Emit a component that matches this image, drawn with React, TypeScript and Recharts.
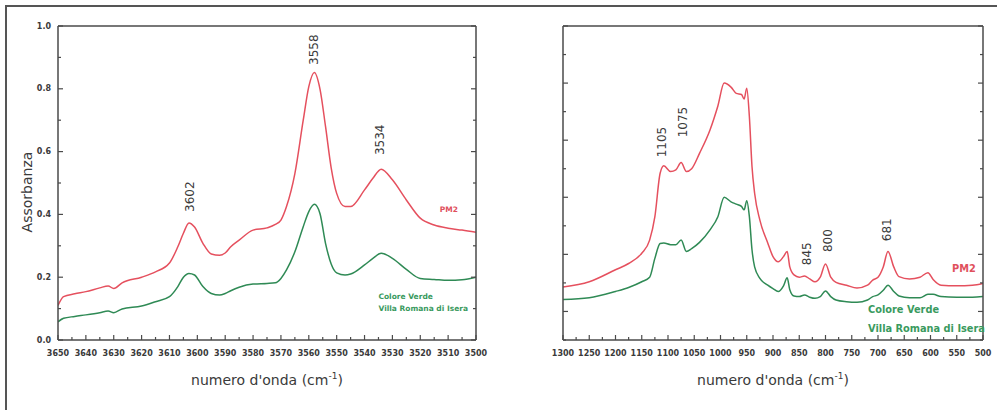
import { LineChart, Line, XAxis, YAxis, ReferenceDot } from 'recharts'

// left panel: OH stretching region
const LEFT_WN = [
  3650, 3648, 3644, 3640, 3635, 3632, 3630, 3627, 3620, 3615, 3610, 3607, 3605, 3603, 3601, 3598,
  3595, 3592, 3590, 3588, 3585, 3580, 3575, 3572, 3570, 3568, 3565, 3562, 3560, 3558, 3556, 3554,
  3552, 3550, 3547, 3545, 3540, 3537, 3534, 3530, 3525, 3520, 3515, 3510, 3505, 3500,
]
const LEFT_PM2 = [
  0.11, 0.138, 0.147, 0.154, 0.166, 0.172, 0.164, 0.182, 0.2, 0.217, 0.245, 0.297, 0.34, 0.373, 0.36, 0.308,
  0.274, 0.27, 0.277, 0.297, 0.318, 0.35, 0.357, 0.368, 0.382, 0.425, 0.53, 0.7, 0.807, 0.852, 0.8, 0.68,
  0.55, 0.467, 0.425, 0.425, 0.478, 0.515, 0.544, 0.51, 0.446, 0.388, 0.366, 0.356, 0.35, 0.343,
]
const LEFT_VERDE = [
  0.058, 0.069, 0.075, 0.08, 0.087, 0.092, 0.087, 0.099, 0.108, 0.122, 0.138, 0.17, 0.2, 0.212, 0.207, 0.17,
  0.148, 0.143, 0.148, 0.157, 0.168, 0.178, 0.18, 0.182, 0.196, 0.223, 0.281, 0.361, 0.409, 0.432, 0.403, 0.308,
  0.243, 0.214, 0.207, 0.21, 0.239, 0.26, 0.276, 0.26, 0.225, 0.196, 0.193, 0.19, 0.192, 0.2,
]
const LEFT_X_TICKS = [
  3650, 3645, 3640, 3635, 3630, 3625, 3620, 3615, 3610, 3605, 3600, 3595, 3590, 3585, 3580, 3575,
  3570, 3565, 3560, 3555, 3550, 3545, 3540, 3535, 3530, 3525, 3520, 3515, 3510, 3505, 3500,
]
const LEFT_Y_TICKS = [0, 0.1, 0.2, 0.3, 0.4, 0.5, 0.6, 0.7, 0.8, 0.9, 1.0]
const LEFT_PEAKS = [
  { x: 3602.5, y: 0.408, label: '3602' },
  { x: 3558, y: 0.876, label: '3558' },
  { x: 3534.5, y: 0.589, label: '3534' },
]
const LEFT_NOTES = [
  { x: 3513, y: 0.417, text: 'PM2', series: 'pm2' },
  { x: 3535, y: 0.14, text: 'Colore Verde', series: 'verde' },
  { x: 3535, y: 0.099, text: 'Villa Romana di Isera', series: 'verde' },
]

// right panel: fingerprint region
const RIGHT_WN = [
  1300, 1250, 1200, 1175, 1150, 1135, 1125, 1115, 1108, 1095, 1085, 1075, 1065, 1055, 1040, 1020,
  1005, 993, 980, 970, 960, 955, 950, 945, 940, 935, 925, 910, 900, 890, 880, 873,
  868, 860, 850, 840, 830, 820, 810, 800, 790, 780, 760, 740, 720, 710, 700, 690,
  681, 670, 660, 640, 620, 605, 595, 580, 550, 520, 500,
]
const RIGHT_PM2 = [
  0.043, 0.052, 0.073, 0.084, 0.102, 0.125, 0.166, 0.242, 0.255, 0.245, 0.248, 0.261, 0.245, 0.25, 0.277, 0.318,
  0.36, 0.4, 0.393, 0.382, 0.38, 0.372, 0.391, 0.341, 0.254, 0.207, 0.16, 0.12, 0.096, 0.087, 0.096, 0.105,
  0.078, 0.064, 0.06, 0.062, 0.057, 0.052, 0.06, 0.083, 0.06, 0.051, 0.046, 0.041, 0.046, 0.055, 0.06, 0.078,
  0.105, 0.078, 0.061, 0.057, 0.06, 0.068, 0.056, 0.046, 0.045, 0.046, 0.049,
]
const RIGHT_VERDE = [
  0.021, 0.024, 0.035, 0.042, 0.052, 0.06, 0.093, 0.119, 0.12, 0.117, 0.117, 0.125, 0.105, 0.11, 0.121, 0.143,
  0.166, 0.2, 0.192, 0.188, 0.184, 0.178, 0.194, 0.166, 0.108, 0.078, 0.058, 0.046, 0.04, 0.035, 0.045, 0.059,
  0.038, 0.027, 0.026, 0.029, 0.025, 0.023, 0.026, 0.036, 0.026, 0.02, 0.017, 0.016, 0.02, 0.026, 0.029, 0.037,
  0.046, 0.035, 0.027, 0.024, 0.024, 0.03, 0.03, 0.026, 0.025, 0.025, 0.026,
]
const RIGHT_X_TICKS = [
  1300, 1275, 1250, 1225, 1200, 1175, 1150, 1125, 1100, 1075, 1050, 1025, 1000, 975, 950, 925, 900,
  875, 850, 825, 800, 775, 750, 725, 700, 675, 650, 625, 600, 575, 550, 525, 500,
]
const RIGHT_Y_TICKS = [-0.05, 0, 0.05, 0.1, 0.15, 0.2, 0.25, 0.3, 0.35, 0.4, 0.45, 0.5]
const RIGHT_PEAKS = [
  { x: 1111, y: 0.27, label: '1105' },
  { x: 1071, y: 0.305, label: '1075' },
  { x: 835, y: 0.081, label: '845' },
  { x: 795, y: 0.104, label: '800' },
  { x: 683, y: 0.123, label: '681' },
]
const RIGHT_NOTES = [
  { x: 559, y: 0.076, text: 'PM2', series: 'pm2' },
  { x: 719, y: 0.003, text: 'Colore Verde', series: 'verde' },
  { x: 719, y: -0.029, text: 'Villa Romana di Isera', series: 'verde' },
]

const FONT = '"DejaVu Sans", sans-serif'
const AXIS = '#4a4a4a'
const TXT = '#3a3a3a'
const RED = '#e5505e'
const GREEN = '#2f8a55'
const NOTE_COLOR: Record<string, string> = { pm2: '#e0505c', verde: '#3a9a5e' }

const leftData = LEFT_WN.map((wn, i) => ({ wn, pm2: LEFT_PM2[i], verde: LEFT_VERDE[i] }))
const rightData = RIGHT_WN.map((wn, i) => ({ wn, pm2: RIGHT_PM2[i], verde: RIGHT_VERDE[i] }))

const isTenth = (v: number) => Math.abs(v * 10 - Math.round(v * 10)) < 1e-6

// ticks drawn inward, labels only on majors
function bottomTick(isMajor: (v: number) => boolean) {
  // eslint-disable-next-line @typescript-eslint/no-explicit-any
  return (props: any) => {
    const { x, y, payload } = props
    const major = isMajor(payload.value)
    return (
      <g>
        <line x1={x} x2={x} y1={y} y2={y - (major ? 5 : 3)} stroke={AXIS} strokeWidth={1.2} />
        {major && (
          <text x={x} y={y + 13} textAnchor="middle" dominantBaseline="central" fontSize={8} fontWeight="bold" fill={TXT}>
            {payload.value}
          </text>
        )}
      </g>
    )
  }
}

function topTick(isMajor: (v: number) => boolean) {
  // eslint-disable-next-line @typescript-eslint/no-explicit-any
  return (props: any) => {
    const { x, y, payload } = props
    const major = isMajor(payload.value)
    return <line x1={x} x2={x} y1={y} y2={y + (major ? 5 : 3)} stroke={AXIS} strokeWidth={1.2} />
  }
}

function leftTick(isMajor: (v: number) => boolean, showLabel: boolean) {
  // eslint-disable-next-line @typescript-eslint/no-explicit-any
  return (props: any) => {
    const { x, y, payload } = props
    const major = isMajor(payload.value)
    return (
      <g>
        <line x1={x} x2={x + (major ? 5 : 3)} y1={y} y2={y} stroke={AXIS} strokeWidth={1.2} />
        {showLabel && major && (
          <text x={x - 7} y={y} textAnchor="end" dominantBaseline="central" fontSize={8} fontWeight="bold" fill={TXT}>
            {Number(payload.value).toFixed(1)}
          </text>
        )}
      </g>
    )
  }
}

function rightTick(isMajor: (v: number) => boolean) {
  // eslint-disable-next-line @typescript-eslint/no-explicit-any
  return (props: any) => {
    const { x, y, payload } = props
    const major = isMajor(payload.value)
    return <line x1={x} x2={x - (major ? 5 : 3)} y1={y} y2={y} stroke={AXIS} strokeWidth={1.2} />
  }
}

// eslint-disable-next-line @typescript-eslint/no-explicit-any
function XTitle(props: any) {
  const { viewBox } = props
  const cx = viewBox.x + viewBox.width / 2
  return (
    <text x={cx} y={viewBox.y + 45} textAnchor="middle" fontSize={14} fill={TXT} fontFamily={FONT}>
      numero d'onda (cm<tspan dy={-6} fontSize={9}>-1</tspan>
      <tspan dy={6}>)</tspan>
    </text>
  )
}

// eslint-disable-next-line @typescript-eslint/no-explicit-any
function YTitle(props: any) {
  const { viewBox } = props
  const cy = viewBox.y + viewBox.height / 2 + 9
  const x = 27
  return (
    <text x={x} y={cy} transform={`rotate(-90 ${x} ${cy})`} textAnchor="middle" dominantBaseline="central" fontSize={14} fill={TXT} fontFamily={FONT}>
      Assorbanza
    </text>
  )
}

function peakShape(label: string) {
  // eslint-disable-next-line @typescript-eslint/no-explicit-any
  return (p: any) => (
    <text
      x={p.cx}
      y={p.cy}
      transform={`rotate(-90 ${p.cx} ${p.cy})`}
      textAnchor="start"
      dominantBaseline="central"
      fontSize={12}
      fill={TXT}
      fontFamily={FONT}
    >
      {label}
    </text>
  )
}

function noteShape(text: string, color: string, size: number) {
  // eslint-disable-next-line @typescript-eslint/no-explicit-any
  return (p: any) => (
    <text x={p.cx} y={p.cy} dominantBaseline="central" fontSize={size} fontWeight="bold" fill={color} fontFamily={FONT}>
      {text}
    </text>
  )
}

const axisLine = { stroke: AXIS, strokeWidth: 1.5 }

export default function App() {
  return (
    <div style={{ position: 'absolute', left: 0, top: 0, width: 997, height: 410, background: '#fff', fontFamily: FONT, overflow: 'hidden' }}>
      <div style={{ position: 'absolute', left: 5, top: 5, right: -4, bottom: -4, borderLeft: '2px solid #555', borderTop: '2px solid #555' }} />

      <div style={{ position: 'absolute', left: 0, top: 0 }}>
        <LineChart width={500} height={410} data={leftData} margin={{ top: 25, right: 23, bottom: 0, left: 0 }}>
          <XAxis
            dataKey="wn"
            type="number"
            domain={[3500, 3650]}
            reversed
            allowDataOverflow
            ticks={LEFT_X_TICKS}
            interval={0}
            height={70}
            tickSize={0}
            tickMargin={0}
            tickLine={false}
            axisLine={axisLine}
            tick={bottomTick(v => v % 10 === 0)}
            label={<XTitle />}
          />
          <XAxis
            xAxisId="top"
            orientation="top"
            type="number"
            domain={[3500, 3650]}
            reversed
            allowDataOverflow
            ticks={LEFT_X_TICKS}
            interval={0}
            height={1}
            tickSize={0}
            tickMargin={0}
            tickLine={false}
            axisLine={axisLine}
            tick={topTick(v => v % 10 === 0)}
          />
          <YAxis
            type="number"
            domain={[0, 1]}
            allowDataOverflow
            ticks={LEFT_Y_TICKS}
            interval={0}
            width={58}
            tickSize={0}
            tickMargin={0}
            tickLine={false}
            axisLine={axisLine}
            tick={leftTick(v => Math.round(v * 10) % 2 === 0, true)}
            label={<YTitle />}
          />
          <YAxis
            yAxisId="right"
            orientation="right"
            type="number"
            domain={[0, 1]}
            allowDataOverflow
            ticks={LEFT_Y_TICKS}
            interval={0}
            width={1}
            tickSize={0}
            tickMargin={0}
            tickLine={false}
            axisLine={axisLine}
            tick={rightTick(v => Math.round(v * 10) % 2 === 0)}
          />
          <Line type="monotone" dataKey="pm2" stroke={RED} strokeWidth={1.5} dot={false} isAnimationActive={false} />
          <Line type="monotone" dataKey="verde" stroke={GREEN} strokeWidth={1.5} dot={false} isAnimationActive={false} />
          {LEFT_PEAKS.map(p => (
            <ReferenceDot key={p.label} x={p.x} y={p.y} r={0} shape={peakShape(p.label)} />
          ))}
          {LEFT_NOTES.map(n => (
            <ReferenceDot key={n.text} x={n.x} y={n.y} r={0} shape={noteShape(n.text, NOTE_COLOR[n.series], 7.5)} />
          ))}
        </LineChart>
      </div>

      <div style={{ position: 'absolute', left: 500, top: 0 }}>
        <LineChart width={497} height={410} data={rightData} margin={{ top: 25, right: 13, bottom: 0, left: 0 }}>
          <XAxis
            dataKey="wn"
            type="number"
            domain={[500, 1300]}
            reversed
            allowDataOverflow
            ticks={RIGHT_X_TICKS}
            interval={0}
            height={70}
            tickSize={0}
            tickMargin={0}
            tickLine={false}
            axisLine={axisLine}
            tick={bottomTick(v => v % 50 === 0)}
            label={<XTitle />}
          />
          <XAxis
            xAxisId="top"
            orientation="top"
            type="number"
            domain={[500, 1300]}
            reversed
            allowDataOverflow
            ticks={RIGHT_X_TICKS}
            interval={0}
            height={1}
            tickSize={0}
            tickMargin={0}
            tickLine={false}
            axisLine={axisLine}
            tick={topTick(v => v % 50 === 0)}
          />
          <YAxis
            type="number"
            domain={[-0.05, 0.5]}
            allowDataOverflow
            ticks={RIGHT_Y_TICKS}
            interval={0}
            width={63}
            tickSize={0}
            tickMargin={0}
            tickLine={false}
            axisLine={axisLine}
            tick={leftTick(isTenth, false)}
          />
          <YAxis
            yAxisId="right"
            orientation="right"
            type="number"
            domain={[-0.05, 0.5]}
            allowDataOverflow
            ticks={RIGHT_Y_TICKS}
            interval={0}
            width={1}
            tickSize={0}
            tickMargin={0}
            tickLine={false}
            axisLine={axisLine}
            tick={rightTick(isTenth)}
          />
          <Line type="monotone" dataKey="pm2" stroke={RED} strokeWidth={1.5} dot={false} isAnimationActive={false} />
          <Line type="monotone" dataKey="verde" stroke={GREEN} strokeWidth={1.5} dot={false} isAnimationActive={false} />
          {RIGHT_PEAKS.map(p => (
            <ReferenceDot key={p.label} x={p.x} y={p.y} r={0} shape={peakShape(p.label)} />
          ))}
          {RIGHT_NOTES.map(n => (
            <ReferenceDot key={n.text} x={n.x} y={n.y} r={0} shape={noteShape(n.text, NOTE_COLOR[n.series], 9.8)} />
          ))}
        </LineChart>
      </div>
    </div>
  )
}
